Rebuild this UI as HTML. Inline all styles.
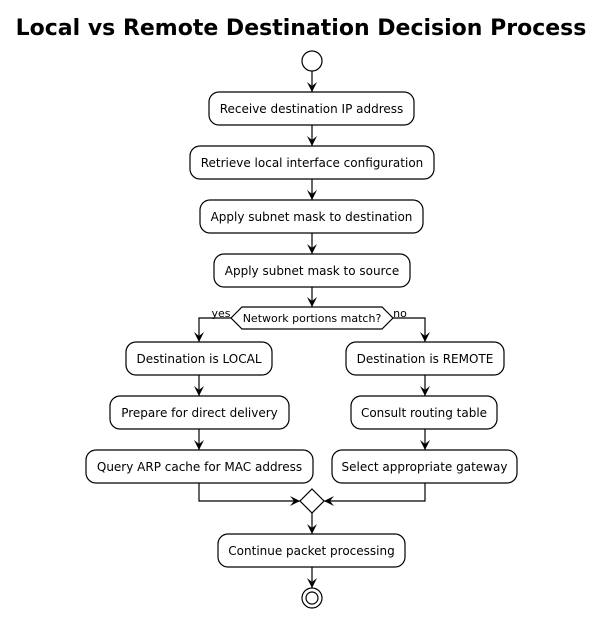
<!DOCTYPE html>
<html><head><meta charset="utf-8"><style>html,body{margin:0;padding:0;background:#fff}</style></head><body>
<svg width="602" height="614" xmlns="http://www.w3.org/2000/svg" font-family="DejaVu Sans, sans-serif">
<defs><marker id="a" viewBox="0 0 10 10" refX="10" refY="5" markerWidth="10" markerHeight="10" markerUnits="userSpaceOnUse" orient="auto"><path d="M0,0 L10,5 L0,10 L4,5 Z" fill="#000"/></marker></defs>
<text x="301" y="35" text-anchor="middle" font-size="22" font-weight="bold">Local vs Remote Destination Decision Process</text>
<g stroke="#000" stroke-width="1.2" fill="none">
<circle cx="312" cy="61" r="10"/>
<line x1="312" y1="71" x2="312" y2="92" marker-end="url(#a)"/>
<rect x="209" y="92" width="205" height="33" rx="10" fill="#fff"/>
<line x1="312" y1="125" x2="312" y2="146" marker-end="url(#a)"/>
<rect x="190" y="146" width="244" height="33" rx="10" fill="#fff"/>
<line x1="312" y1="179" x2="312" y2="200" marker-end="url(#a)"/>
<rect x="200" y="200" width="223" height="33" rx="10" fill="#fff"/>
<line x1="312" y1="233" x2="312" y2="254" marker-end="url(#a)"/>
<rect x="214" y="254" width="196" height="33" rx="10" fill="#fff"/>
<line x1="312" y1="287" x2="312" y2="307" marker-end="url(#a)"/>
<polygon points="231,318 242,307 382,307 393,318 382,329 242,329" fill="#fff"/>
<polyline points="231,318 199,318 199,342" marker-end="url(#a)"/>
<polyline points="393,318 425,318 425,342" marker-end="url(#a)"/>
<rect x="126" y="342" width="146" height="33" rx="10" fill="#fff"/>
<line x1="199" y1="375" x2="199" y2="396" marker-end="url(#a)"/>
<rect x="110" y="396" width="179" height="33" rx="10" fill="#fff"/>
<line x1="199" y1="429" x2="199" y2="450" marker-end="url(#a)"/>
<rect x="86" y="450" width="227" height="33" rx="10" fill="#fff"/>
<rect x="346" y="342" width="158" height="33" rx="10" fill="#fff"/>
<line x1="425" y1="375" x2="425" y2="396" marker-end="url(#a)"/>
<rect x="351" y="396" width="146" height="33" rx="10" fill="#fff"/>
<line x1="425" y1="429" x2="425" y2="450" marker-end="url(#a)"/>
<rect x="332" y="450" width="185" height="33" rx="10" fill="#fff"/>
<polyline points="199,483 199,501 300,501" marker-end="url(#a)"/>
<polyline points="425,483 425,501 324,501" marker-end="url(#a)"/>
<polygon points="312,489 324,501 312,513 300,501" fill="#fff"/>
<line x1="312" y1="513" x2="312" y2="534" marker-end="url(#a)"/>
<rect x="218" y="534" width="187" height="33" rx="10" fill="#fff"/>
<line x1="312" y1="567" x2="312" y2="588" marker-end="url(#a)"/>
<circle cx="312" cy="598" r="10"/>
<circle cx="312" cy="598" r="6"/>
</g>
<g font-size="12" text-anchor="middle" fill="#000">
<text x="311.5" y="113">Receive destination IP address</text>
<text x="312" y="167">Retrieve local interface configuration</text>
<text x="311.5" y="221">Apply subnet mask to destination</text>
<text x="312" y="275">Apply subnet mask to source</text>
<text x="312" y="322" font-size="11">Network portions match?</text>
<text x="199" y="363">Destination is LOCAL</text>
<text x="199.5" y="417">Prepare for direct delivery</text>
<text x="199.5" y="471">Query ARP cache for MAC address</text>
<text x="425" y="363">Destination is REMOTE</text>
<text x="424" y="417">Consult routing table</text>
<text x="424.5" y="471">Select appropriate gateway</text>
<text x="311.5" y="555">Continue packet processing</text>
<text x="221" y="317" font-size="11">yes</text>
<text x="400" y="317" font-size="11">no</text>
</g>
</svg>
</body></html>
